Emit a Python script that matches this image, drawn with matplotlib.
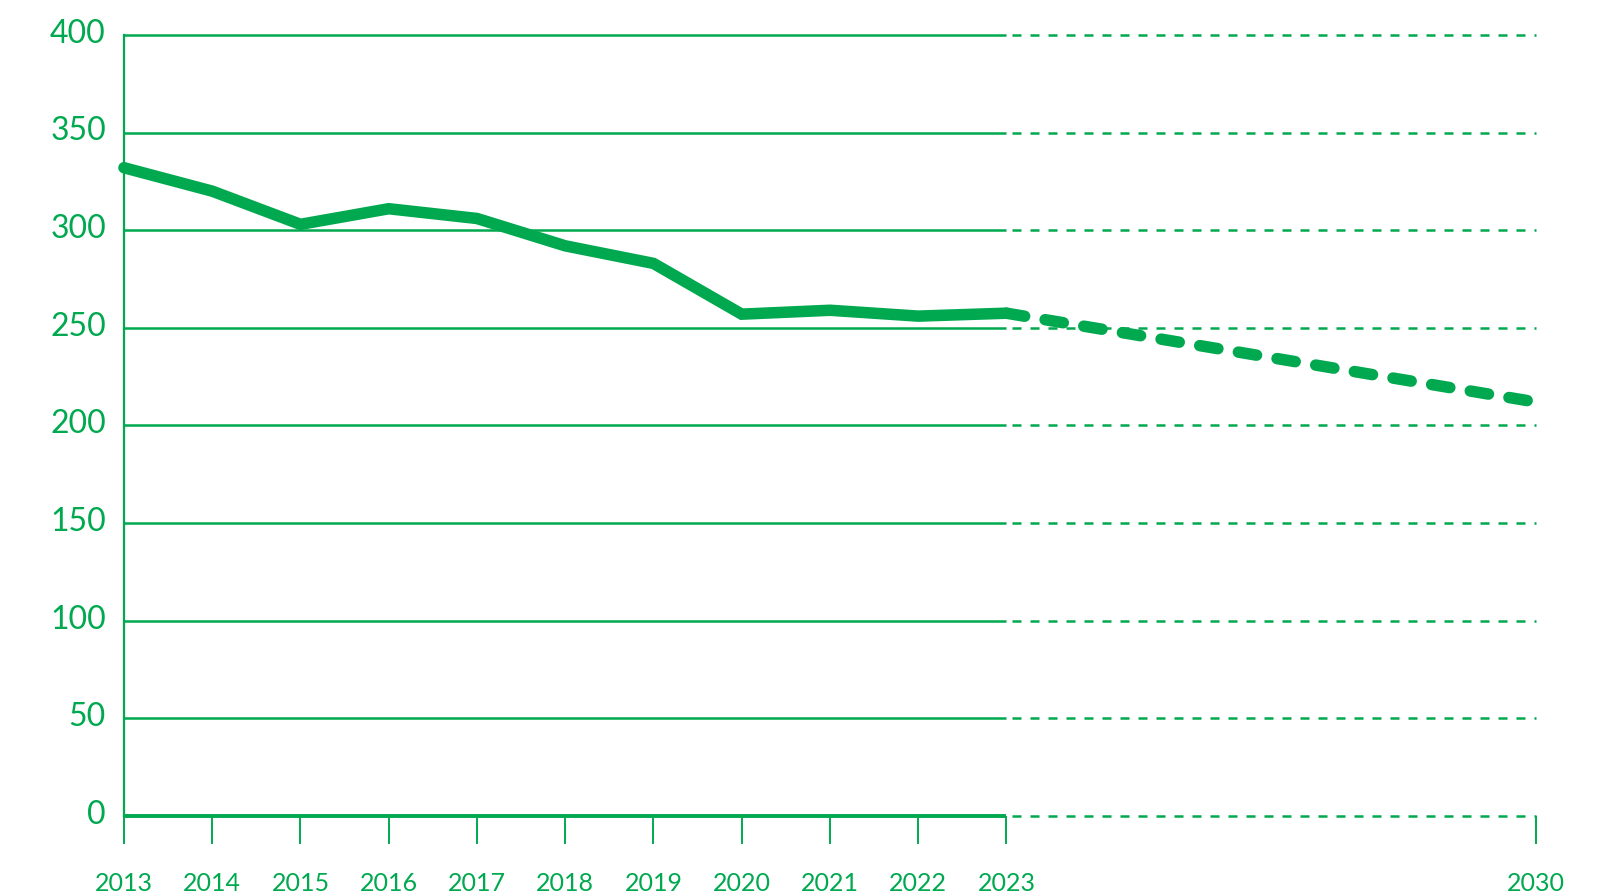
import matplotlib
matplotlib.use("Agg")
import matplotlib.pyplot as plt
from matplotlib.transforms import ScaledTranslation

# ---- data ----
years = ["2013", "2014", "2015", "2016", "2017", "2018", "2019", "2020", "2021", "2022", "2023"]
values = [332, 320, 303, 311, 306, 292, 283, 257, 259, 256, 257.5]
forecast_years = ["2023", "2030"]
forecast_values = [257.5, 212]
y_ticks = [0, 50, 100, 150, 200, 250, 300, 350, 400]
tick_labels = years + ["2030"]

GREEN = "#00a94f"

# x positions: equally spaced actual years, 2030 placed six steps after 2023
pos = {y: i for i, y in enumerate(years)}
pos["2030"] = len(years) - 1 + 6

plt.rcParams['font.family'] = ['Lato', 'DejaVu Sans']

fig = plt.figure(figsize=(16.10, 8.96), dpi=100)
ax = fig.add_axes([0.077, 0.0893, 0.877, 0.8717])

x_last = pos["2023"]
x_end = pos["2030"]

# gridlines: solid over history, dashed over forecast span
for yv in y_ticks:
    lw = 2.8 if yv == 0 else 1.8
    ax.plot([0, x_last], [yv, yv], color=GREEN, lw=lw, solid_capstyle='butt', zorder=1, clip_on=False)
    ax.plot([x_last + 0.06, x_end], [yv, yv], color=GREEN, lw=1.8, linestyle=(0, (3.6, 3.6)),
            dash_capstyle='butt', zorder=1, clip_on=False)

# history line
xs = [pos[y] for y in years]
ax.plot(xs, values, color=GREEN, lw=8.3, solid_capstyle='round', solid_joinstyle='miter', zorder=3, clip_on=False)

# forecast line
fx = [pos[y] for y in forecast_years]
ax.plot(fx, forecast_values, color=GREEN, lw=8.3, linestyle=(0, (1.6, 1.8)),
        dash_capstyle='round', zorder=3, clip_on=False)

ax.set_xlim(0, x_end)
ax.set_ylim(0, 400)

ax.set_xticks([pos[t] for t in tick_labels])
ax.set_xticklabels(tick_labels)
ax.set_yticks(y_ticks)
ax.set_yticklabels([str(v) for v in y_ticks])

ax.tick_params(axis='x', direction='out', length=20, width=1.4, color=GREEN,
               labelcolor=GREEN, labelsize=18, pad=20)
ax.tick_params(axis='y', length=0, labelcolor=GREEN, labelsize=23, pad=13)
shift = ScaledTranslation(0, 3 / 72, fig.dpi_scale_trans)
for lab in ax.get_yticklabels():
    lab.set_fontweight('normal')
    lab.set_transform(lab.get_transform() + shift)
for lab in ax.get_xticklabels():
    lab.set_fontweight('normal')

for s in ['top', 'right', 'bottom']:
    ax.spines[s].set_visible(False)
ax.spines['left'].set_color(GREEN)
ax.spines['left'].set_linewidth(1.6)

ax.set_facecolor('white')
fig.patch.set_facecolor('white')

fig.savefig("out.png", dpi=100, facecolor='white')
